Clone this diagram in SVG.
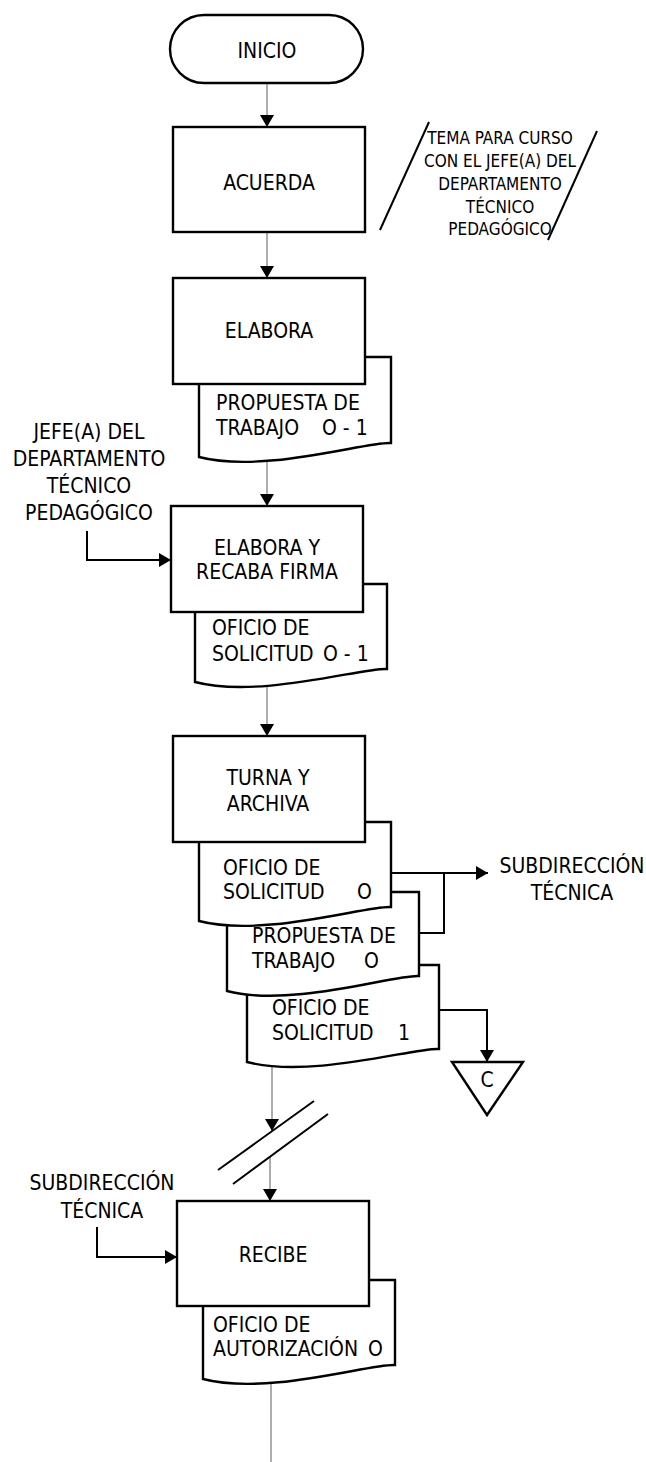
<svg xmlns="http://www.w3.org/2000/svg" width="646" height="1462" viewBox="0 0 646 1462">
<style>
.sh{fill:#fff;stroke:#000;stroke-width:2.4}
.t{font-family:"Liberation Sans Narrow","DejaVu Sans Condensed",sans-serif;font-size:21px;fill:#000}
.tc{text-anchor:middle}
.sm{font-size:17px}
.flow{fill:none;stroke:#777;stroke-width:1.2}
.side{fill:none;stroke:#000;stroke-width:2}
</style>
<defs>
<marker id="ah" markerUnits="userSpaceOnUse" markerWidth="12" markerHeight="14" refX="12" refY="7" orient="auto">
<path d="M0,0 L12,7 L0,14 z" fill="#000"/>
</marker>
</defs>
<rect width="646" height="1462" fill="#fff"/>

<g id="connectors">
<line class="flow" x1="267" y1="83" x2="267" y2="127" marker-end="url(#ah)"/>
<line class="flow" x1="267" y1="232" x2="267" y2="278" marker-end="url(#ah)"/>
<line class="flow" x1="267" y1="461" x2="267" y2="506" marker-end="url(#ah)"/>
<line class="flow" x1="267" y1="687" x2="267" y2="736" marker-end="url(#ah)"/>
<line class="flow" x1="272" y1="1066" x2="272" y2="1131" marker-end="url(#ah)"/>
<line class="flow" x1="270" y1="1157" x2="270" y2="1201" marker-end="url(#ah)"/>
<line class="flow" x1="271" y1="1383" x2="271" y2="1462"/>
<polyline class="side" points="87,531 87,560 171,560" marker-end="url(#ah)"/>
<line class="side" x1="391" y1="873" x2="488" y2="873" marker-end="url(#ah)"/>
<polyline class="side" points="419,933 444,933 444,873"/>
<polyline class="side" points="439,1010 487,1010 487,1062" marker-end="url(#ah)"/>
<polyline class="side" points="97,1227 97,1257 177,1257" marker-end="url(#ah)"/>
<line class="side" x1="218" y1="1170" x2="314" y2="1101"/>
<line class="side" x1="233" y1="1184" x2="328" y2="1114"/>
</g>

<g id="inicio">
<rect class="sh" x="170" y="15" width="193" height="68" rx="34"/>
<text class="t tc" x="267" y="58">INICIO</text>
</g>

<g id="acuerda">
<rect class="sh" x="173" y="127" width="192" height="105"/>
<text class="t tc" x="269" y="190">ACUERDA</text>
</g>

<g id="nota-tema">
<line class="side" x1="380" y1="230" x2="429" y2="122"/>
<line class="side" x1="597" y1="131" x2="548" y2="240"/>
<text class="t sm tc" x="500" y="144">TEMA PARA CURSO</text>
<text class="t sm tc" x="500" y="167">CON EL JEFE(A) DEL</text>
<text class="t sm tc" x="500" y="190">DEPARTAMENTO</text>
<text class="t sm tc" x="500" y="213">TÉCNICO</text>
<text class="t sm tc" x="500" y="235">PEDAGÓGICO</text>
</g>

<g id="elabora">
<path class="sh" d="M199,357 H391 V443 C368,441 264,474 199,457 Z"/>
<rect class="sh" x="173" y="278" width="192" height="106"/>
<text class="t tc" x="269" y="338">ELABORA</text>
<text class="t" x="216" y="410">PROPUESTA DE</text>
<text class="t" x="216" y="435">TRABAJO<tspan x="322">O - 1</tspan></text>
</g>

<g id="jefe">
<text class="t tc" x="89" y="439">JEFE(A) DEL</text>
<text class="t tc" x="89" y="466">DEPARTAMENTO</text>
<text class="t tc" x="89" y="493">TÉCNICO</text>
<text class="t tc" x="89" y="520">PEDAGÓGICO</text>
</g>

<g id="elabora-recaba">
<path class="sh" d="M195,584 H387 V669 C364,667 260,699 195,682 Z"/>
<rect class="sh" x="171" y="506" width="192" height="106"/>
<text class="t tc" x="267" y="555">ELABORA Y</text>
<text class="t tc" x="267" y="579">RECABA FIRMA</text>
<text class="t" x="212" y="635">OFICIO DE</text>
<text class="t" x="212" y="661">SOLICITUD<tspan x="323">O - 1</tspan></text>
</g>

<g id="turna-archiva">
<path class="sh" d="M247,965 H439 V1049 C416,1047 312,1079 247,1062 Z"/>
<text class="t" x="272" y="1015">OFICIO DE</text>
<text class="t" x="272" y="1040">SOLICITUD<tspan x="398">1</tspan></text>
<path class="sh" d="M227,892 H419 V976 C396,974 292,1008 227,991 Z"/>
<text class="t" x="252" y="943">PROPUESTA DE</text>
<text class="t" x="252" y="968">TRABAJO<tspan x="364">O</tspan></text>
<path class="sh" d="M199,822 H391 V907 C368,905 264,938 199,921 Z"/>
<text class="t" x="223" y="875">OFICIO DE</text>
<text class="t" x="223" y="899">SOLICITUD<tspan x="357">O</tspan></text>
<rect class="sh" x="173" y="736" width="192" height="106"/>
<text class="t tc" x="268" y="785">TURNA Y</text>
<text class="t tc" x="268" y="811">ARCHIVA</text>
</g>

<g id="subdireccion-destino">
<text class="t tc" x="572" y="873">SUBDIRECCIÓN</text>
<text class="t tc" x="572" y="900">TÉCNICA</text>
</g>

<g id="conector-c">
<polygon class="sh" points="452,1062 523,1062 487,1115"/>
<text class="t tc" x="487" y="1087">C</text>
</g>

<g id="subdireccion-origen">
<text class="t tc" x="102" y="1190">SUBDIRECCIÓN</text>
<text class="t tc" x="102" y="1218">TÉCNICA</text>
</g>

<g id="recibe">
<path class="sh" d="M203,1280 H395 V1365 C372,1363 268,1396 203,1379 Z"/>
<rect class="sh" x="177" y="1201" width="192" height="105"/>
<text class="t tc" x="273" y="1262">RECIBE</text>
<text class="t" x="213" y="1332">OFICIO DE</text>
<text class="t" x="213" y="1356">AUTORIZACIÓN<tspan x="368">O</tspan></text>
</g>
</svg>
